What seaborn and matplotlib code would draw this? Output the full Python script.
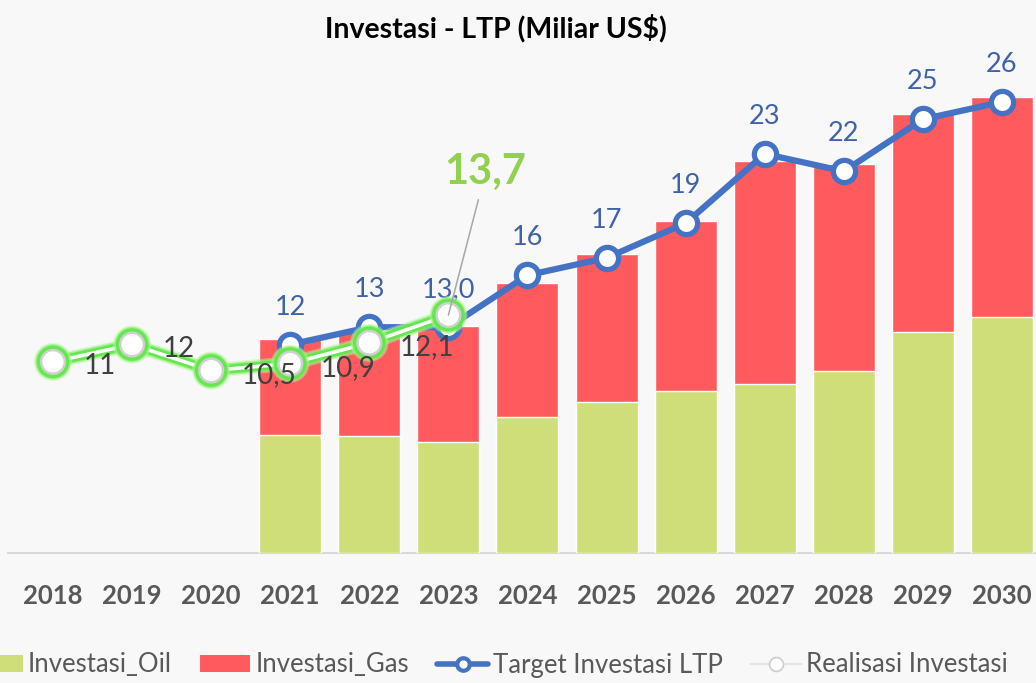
import numpy as np
import pandas as pd
import matplotlib
matplotlib.use("Agg")
import matplotlib.pyplot as plt
import matplotlib.patheffects as pe
from matplotlib.lines import Line2D
from matplotlib.patches import Patch
import seaborn as sns

# ---------------- data ----------------
years = ["2018", "2019", "2020", "2021", "2022", "2023", "2024",
         "2025", "2026", "2027", "2028", "2029", "2030"]
bar_years = ["2021", "2022", "2023", "2024", "2025", "2026", "2027",
             "2028", "2029", "2030"]
investasi_oil = [6.8, 6.7, 6.4, 7.8, 8.7, 9.3, 9.7, 10.5, 12.7, 13.6]
investasi_gas = [5.5, 6.1, 6.65, 7.75, 8.55, 9.85, 12.9, 11.9, 12.6, 12.7]
target_years = bar_years
target_ltp = [12, 13, 13.0, 16, 17, 19, 23, 22, 25, 26]
target_labels = ["12", "13", "13,0", "16", "17", "19", "23", "22", "25", "26"]
real_years = ["2018", "2019", "2020", "2021", "2022", "2023"]
realisasi = [11, 12, 10.5, 10.9, 12.1, 13.7]

# ---------------- style ----------------
sns.set_theme(style="white")
plt.rcParams["font.family"] = ["Lato", "DejaVu Sans"]

BG = "#f9f8f9"
OIL = "#d0de7a"
GAS = "#ff5a5e"
BLUE = "#4472c4"
TXT = "#595959"

fig = plt.figure(figsize=(10.36, 6.83), dpi=100, facecolor=BG)
W, H = 1036, 683
left_px, right_px = 8, 1036
base_px, top_px = 552.5, 41.3
ax = fig.add_axes([left_px / W, 1 - base_px / H,
                   (right_px - left_px) / W, (base_px - top_px) / H])
ax.set_facecolor(BG)

pos = {y: i for i, y in enumerate(years)}

df_bar = pd.DataFrame({"year": bar_years,
                       "oil": investasi_oil,
                       "total": np.array(investasi_oil) + np.array(investasi_gas)})

sns.barplot(data=df_bar, x="year", y="total", order=years, color=GAS,
            width=0.784, saturation=1, ax=ax, zorder=2)
sns.barplot(data=df_bar, x="year", y="oil", order=years, color=OIL,
            width=0.784, saturation=1, ax=ax, zorder=3)

# Target line
df_t = pd.DataFrame({"x": [pos[y] for y in target_years], "v": target_ltp})
sns.lineplot(data=df_t, x="x", y="v", ax=ax, color=BLUE, lw=4.5,
             marker="o", markersize=16, markerfacecolor="white",
             markeredgecolor=BLUE, markeredgewidth=3.8, zorder=5)
for xv, v, lab in zip(df_t["x"], df_t["v"], target_labels):
    ax.annotate(lab, (xv, v), xytext=(0, 27), textcoords="offset points",
                ha="center", va="center", fontsize=19.5, color="#4062a8",
                zorder=7)

# Realisasi line with green glow
df_r = pd.DataFrame({"x": [pos[y] for y in real_years], "v": realisasi})
glow = [pe.Stroke(linewidth=10.5, foreground="#b8f7a0", alpha=0.45),
        pe.Stroke(linewidth=8.5, foreground="#8cf070", alpha=0.7),
        pe.Stroke(linewidth=6.5, foreground="#5ee64a", alpha=0.9),
        pe.Normal()]
sns.lineplot(data=df_r, x="x", y="v", ax=ax, color="white", lw=2.6,
             marker="o", markersize=17, markerfacecolor="white",
             markeredgecolor="#d0d0d0", markeredgewidth=1.8,
             path_effects=glow, zorder=8)
for xv, v in zip(df_r["x"][:-1], df_r["v"][:-1]):
    lab = f"{v:g}".replace(".", ",")
    ax.annotate(lab, (xv, v), xytext=(22, -3), textcoords="offset points",
                ha="left", va="center", fontsize=20, color="#404040",
                zorder=9)
# highlighted last value
last_x, last_v = df_r["x"].iloc[-1], df_r["v"].iloc[-1]
ax.annotate(f"{last_v:g}".replace(".", ","), (last_x, last_v),
            xytext=(last_x + 0.47, 21.95), textcoords="data",
            ha="center", va="center", fontsize=30, fontweight="bold",
            color="#92d050",
            arrowprops=dict(arrowstyle="-", color="#a6a6a6", lw=1.1,
                            shrinkA=4, shrinkB=0),
            zorder=10)

# axes cosmetics
ax.set_xlim((left_px - 53) / 79.08, (right_px - 53) / 79.08)
ax.set_ylim(0, (base_px - top_px) / 17.33)
ax.set_xlabel("")
ax.set_ylabel("")
ax.set_yticks([])
ax.set_xticks(range(len(years)))
ax.set_xticklabels(years)
ax.tick_params(axis="x", length=0, pad=23, labelsize=18.5, labelcolor=TXT)
for t in ax.get_xticklabels():
    t.set_fontweight("bold")
for s in ["left", "right", "top"]:
    ax.spines[s].set_visible(False)
ax.spines["bottom"].set_color("#d9d9d9")
ax.spines["bottom"].set_linewidth(1.5)
if ax.get_legend() is not None:
    ax.get_legend().remove()

fig.text(496 / W, 1 - 28 / H, "Investasi - LTP (Miliar US$)", ha="center",
         va="center", fontsize=20.5, fontweight="bold", color="black")

handles = [
    Patch(facecolor=OIL, edgecolor="none", label="Investasi_Oil"),
    Patch(facecolor=GAS, edgecolor="none", label="Investasi_Gas"),
    Line2D([], [], color=BLUE, lw=4, marker="o", markersize=9,
           markerfacecolor="white", markeredgecolor=BLUE, markeredgewidth=3,
           label="Target Investasi LTP"),
    Line2D([], [], color="#e3e3e3", lw=1.5, marker="o", markersize=10,
           markerfacecolor="white", markeredgecolor="#d0d0d0",
           markeredgewidth=1.3, label="Realisasi Investasi"),
]
leg = fig.legend(handles=handles, loc="center left",
                 bbox_to_anchor=(-40 / W, 1 - 665 / H), ncol=4,
                 frameon=False, fontsize=18.5, handlelength=1.95,
                 handletextpad=0.2, columnspacing=1.1, borderpad=0,
                 handleheight=0.6)
for t in leg.get_texts():
    t.set_color(TXT)

fig.savefig("out.png", dpi=100, facecolor=BG)
